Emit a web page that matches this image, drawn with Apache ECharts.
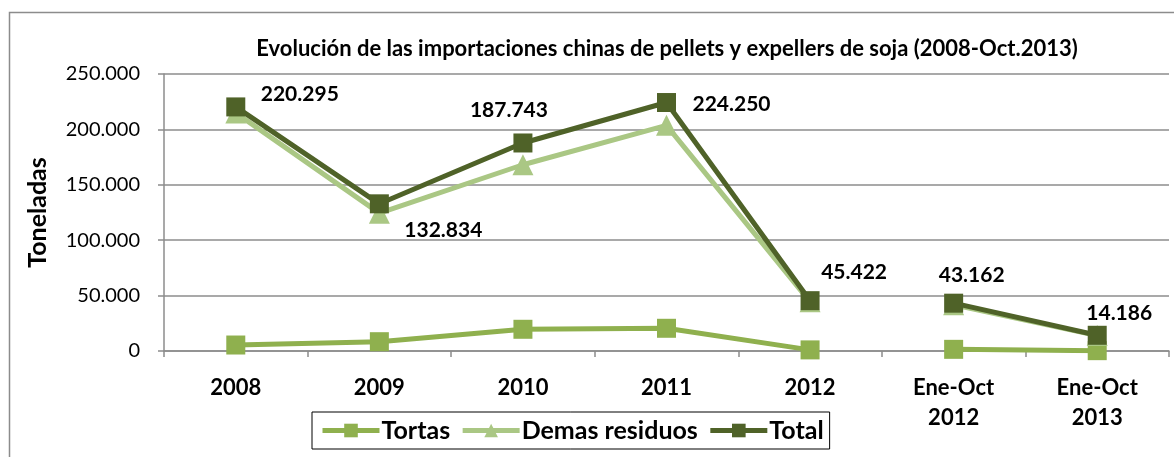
<!DOCTYPE html>
<html><head><meta charset="utf-8">
<script src="https://cdn.jsdelivr.net/npm/echarts@6/dist/echarts.min.js"></script>
<style>html,body{margin:0;padding:0;background:#fff}#c{width:1174px;height:457px}</style>
</head><body><div id="c"></div>
<script>
const categories = ['2008', '2009', '2010', '2011', '2012', 'Ene-Oct\n2012', 'Ene-Oct\n2013'];
const tortas = [5400, 8400, 19600, 20500, 1000, 1500, 300];
const demasResiduos = [214900, 124400, 168100, 203700, 44400, 41700, 13900];
const total = [220295, 132834, 187743, 224250, 45422, 43162, 14186];
const yTicks = [0, 50000, 100000, 150000, 200000, 250000];
// the annual segment and the Jan-Oct segment are drawn unconnected
const annualCount = 5;

// label offsets (styling only)
const totalLabelOffsets = [[64, -13], [64, 26], [-14, -33], [65, 2], [44, -28], [18, -28], [22, -22]];

const FONT = 'Lato';
const fmt = v => v === 0 ? '0' : Math.round(v).toString().replace(/\B(?=(\d{3})+(?!\d))/g, '.');

const colors = {tortas: '#8FB04E', demas: '#AAC784', total: '#4F6228'};

function segments(name, values, color, symbol, size, z, withLabels) {
  const mk = (from, to) => values.map((v, i) => {
    if (i < from || i >= to) return '-';
    if (!withLabels) return v;
    return {value: v, label: {show: true, position: 'inside', offset: totalLabelOffsets[i]}};
  });
  const base = {
    name, type: 'line', symbol, symbolSize: size, z,
    lineStyle: {width: 5, color}, itemStyle: {color},
    label: {fontFamily: FONT, fontSize: 21, fontWeight: 'bold', color: '#000', formatter: p => fmt(p.value)}
  };
  return [
    Object.assign({}, base, {data: mk(0, annualCount)}),
    Object.assign({}, base, {data: mk(annualCount, values.length)})
  ];
}

const chart = echarts.init(document.getElementById('c'), null, {renderer: 'canvas'});
chart.setOption({
  animation: false,
  backgroundColor: '#fff',
  textStyle: {fontFamily: FONT},
  title: {
    text: 'Evolución de las importaciones chinas de pellets y expellers de soja (2008-Oct.2013)',
    left: 662, top: 33, textAlign: 'center',
    textStyle: {fontFamily: FONT, fontSize: 22, fontWeight: 'bold', color: '#000'}
  },
  graphic: [{
    type: 'rect', shape: {x: 9.5, y: 12.5, width: 1200, height: 500},
    style: {fill: 'none', stroke: '#8c8c8c', lineWidth: 1.5}, silent: true, z: -1
  }],
  legend: {
    left: 312, top: 412,
    padding: [6, 6, 6, 8],
    borderColor: '#000', borderWidth: 1,
    itemWidth: 57, itemHeight: 17, itemGap: 10,
    lineStyle: {width: 5},
    textStyle: {fontFamily: FONT, fontSize: 25, fontWeight: 'bold', color: '#000', padding: [0, 0, 0, -3]},
    data: ['Tortas', 'Demas residuos', 'Total']
  },
  grid: {left: 164, right: 5, top: 74, bottom: 106, containLabel: false},
  xAxis: {
    type: 'category', data: categories, boundaryGap: true,
    axisLine: {lineStyle: {color: '#8c8c8c', width: 1.5}},
    axisTick: {show: true, length: 6, lineStyle: {color: '#8c8c8c', width: 1.5}},
    axisLabel: {fontFamily: FONT, fontSize: 22, fontWeight: 'bold', color: '#000', margin: 22, lineHeight: 30, interval: 0}
  },
  yAxis: {
    type: 'value', min: yTicks[0], max: yTicks[yTicks.length - 1], interval: 50000,
    name: 'Toneladas', nameLocation: 'middle', nameGap: 114, nameRotate: 90,
    nameTextStyle: {fontFamily: FONT, fontSize: 25, fontWeight: 'bold', color: '#000'},
    axisLine: {show: true, lineStyle: {color: '#8c8c8c', width: 1.5}},
    axisTick: {show: true, length: 6, lineStyle: {color: '#8c8c8c', width: 1.5}},
    axisLabel: {fontFamily: FONT, fontSize: 20, color: '#000', margin: 24, formatter: fmt},
    splitLine: {lineStyle: {color: '#8c8c8c', width: 1.5}}
  },
  series: [].concat(
    segments('Tortas', tortas, colors.tortas, 'rect', 19, 2, false),
    segments('Demas residuos', demasResiduos, colors.demas, 'triangle', 21, 3, false),
    segments('Total', total, colors.total, 'rect', 19, 4, true)
  )
});
</script></body></html>
